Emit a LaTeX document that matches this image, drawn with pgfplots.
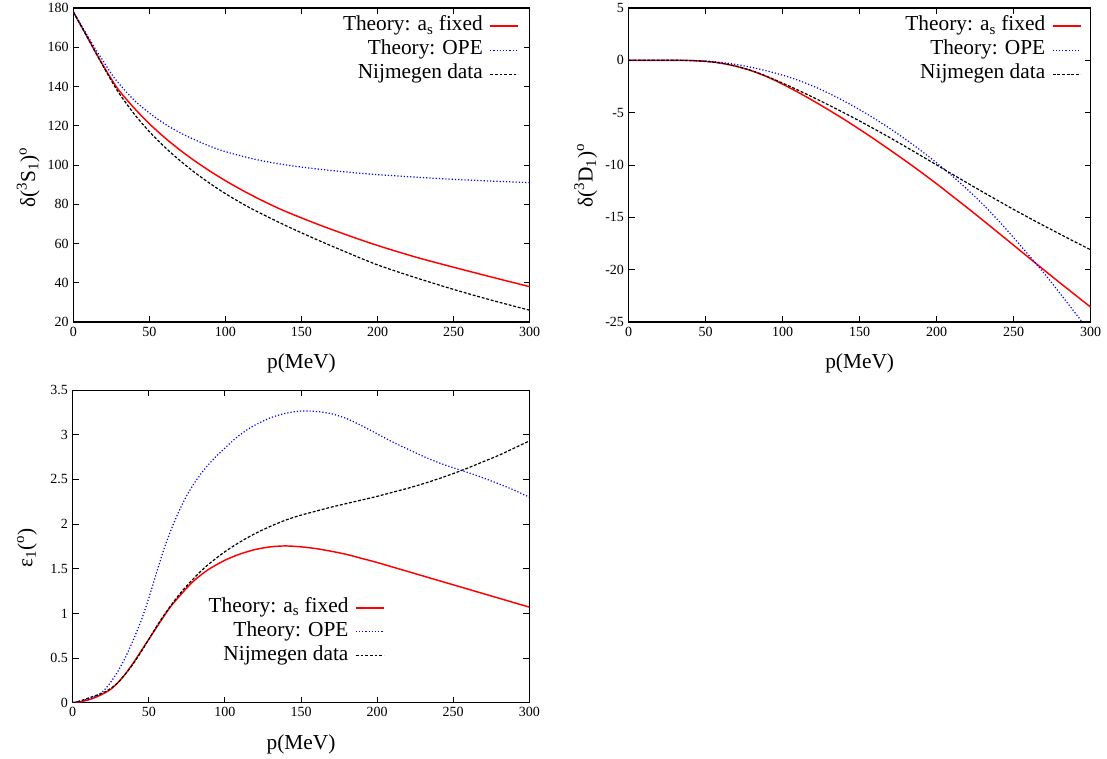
\documentclass[border=0pt]{standalone}
\usepackage{fontspec}
\setmainfont{Liberation Serif}
\usepackage{pgfplots}
\pgfplotsset{compat=1.18}
\pgfplotsset{
  gp/.style={
    scale only axis,
    anchor=south west,
    xmin=0, xmax=300,
    xtick={0,50,...,300},
    /pgf/number format/assume math mode=true,
    tick label style={font=\fontsize{10.5}{12}\selectfont, black},
    label style={font=\fontsize{16}{18}\selectfont},
    tick align=inside,
    major tick length=4.5pt,
    every tick/.style={black, line width=0.7pt},
    axis line style={black, line width=0.8pt},
    xlabel={p(MeV)},
    legend plot pos=right,
    legend image code/.code={\draw[##1] (0pt,0pt) -- (21pt,0pt);},
    legend style={draw=none, fill=none, inner sep=0pt, outer sep=0pt,
      row sep=0pt, column sep=5pt, font=\fontsize{16}{18}\selectfont,
      nodes={inner sep=0pt, text height=12.5pt, text depth=5.5pt},
      cells={anchor=east}},
  },
  redl/.style={color=red, line width=1.1pt, smooth},
  bluel/.style={color=blue, line width=0.9pt, dash pattern=on 0.9pt off 1.5pt, smooth},
  blackl/.style={color=black, line width=0.9pt, dash pattern=on 2.2pt off 1.3pt, smooth},
}
\begin{document}
\begin{tikzpicture}
\useasboundingbox (0,0) rectangle (830.25pt,569.25pt);
% ---------------- Panel 1: 3S1
\begin{axis}[gp,
  at={(55pt,327.75pt)}, width=342.2pt, height=235.5pt,
  ymin=20, ymax=180, ytick={20,40,...,180},
  ylabel={δ(\textsuperscript{3}S\textsubscript{1})\textsuperscript{o}},
  ylabel style={at={(axis description cs:-0.099,0.46)}, anchor=center},
  xlabel style={at={(axis description cs:0.5,-0.131)}, anchor=center},
  legend style={at={(axis description cs:1,1)}, anchor=north east, xshift=-8pt, yshift=-4.6pt},
]
\addplot[redl] coordinates {(0,178) (5,171) (10,164) (15,157) (20,150.2) (25,143.8) (30,138) (40,129) (50,121) (60,114) (70,107.7) (80,102) (90,96.8) (100,92) (110,87.6) (120,83.5) (130,79.7) (140,76.2) (160,70) (180,64.3) (200,59) (225,53.1) (250,47.9) (275,42.9) (300,38)};
\addlegendentry{Theory: a\textsubscript{s} fixed}
\addplot[bluel] coordinates {(0,178) (5,171.5) (10,165) (15,158.5) (20,152.5) (25,146.5) (30,141.5) (40,133) (50,126.5) (60,121) (70,116.5) (80,112.8) (90,109.5) (100,106.8) (120,102.8) (140,100) (160,98) (180,96.4) (200,95.1) (225,93.8) (250,92.7) (275,91.8) (300,91)};
\addlegendentry{Theory: OPE}
\addplot[blackl] coordinates {(0,178) (5,171) (10,164) (15,156.8) (20,149.8) (25,143) (30,136.6) (40,126) (50,117) (60,109.2) (70,102.3) (80,96.1) (90,90.5) (100,85.4) (110,80.8) (120,76.6) (140,69) (160,62) (180,55.4) (200,49.1) (225,42.6) (250,36.6) (275,31.1) (300,26)};
\addlegendentry{Nijmegen data}
\end{axis}
% ---------------- Panel 2: 3D1
\begin{axis}[gp,
  at={(471.5pt,327.75pt)}, width=346.5pt, height=235.5pt,
  ymin=-25, ymax=5, ytick={-25,-20,...,5},
  ylabel={δ(\textsuperscript{3}D\textsubscript{1})\textsuperscript{o}},
  ylabel style={at={(axis description cs:-0.093,0.466)}, anchor=center},
  xlabel style={at={(axis description cs:0.5,-0.131)}, anchor=center},
  legend style={at={(axis description cs:1,1)}, anchor=north east, xshift=-7pt, yshift=-4.6pt},
]
\addplot[redl] coordinates {(0,0) (20,0) (30,0) (40,-0.02) (50,-0.1) (60,-0.27) (70,-0.58) (80,-1.01) (90,-1.58) (100,-2.28) (110,-3.05) (120,-3.88) (130,-4.75) (140,-5.65) (150,-6.6) (160,-7.58) (170,-8.6) (180,-9.63) (190,-10.7) (200,-11.8) (210,-12.95) (220,-14.1) (230,-15.28) (240,-16.47) (250,-17.67) (260,-18.87) (270,-20.07) (280,-21.25) (290,-22.42) (300,-23.58)};
\addlegendentry{Theory: a\textsubscript{s} fixed}
\addplot[bluel] coordinates {(0,0) (20,0) (30,0) (40,-0.01) (50,-0.07) (60,-0.2) (70,-0.4) (80,-0.68) (90,-1.02) (100,-1.42) (110,-1.9) (120,-2.48) (130,-3.15) (140,-3.9) (150,-4.72) (160,-5.6) (170,-6.55) (180,-7.57) (190,-8.65) (200,-9.8) (210,-11.03) (220,-12.35) (230,-13.75) (240,-15.3) (250,-16.95) (260,-18.65) (270,-20.4) (280,-22.25) (290,-24.15) (295,-25.1)};
\addlegendentry{Theory: OPE}
\addplot[blackl] coordinates {(0,0) (20,0) (30,0) (40,-0.02) (50,-0.1) (60,-0.27) (70,-0.57) (80,-0.99) (90,-1.55) (100,-2.18) (110,-2.85) (120,-3.55) (130,-4.28) (140,-5.03) (150,-5.8) (160,-6.6) (170,-7.42) (180,-8.27) (190,-9.13) (200,-10.0) (210,-10.87) (220,-11.73) (230,-12.58) (240,-13.42) (250,-14.25) (260,-15.05) (270,-15.83) (280,-16.6) (290,-17.36) (300,-18.1)};
\addlegendentry{Nijmegen data}
\end{axis}
% ---------------- Panel 3: epsilon_1
\begin{axis}[gp,
  at={(54.5pt,42.2pt)}, width=342.5pt, height=234.5pt,
  ymin=0, ymax=3.5, ytick={0,0.5,...,3.5},
  ylabel={ε\textsubscript{1}(\textsuperscript{o})},
  ylabel style={at={(axis description cs:-0.1,0.495)}, anchor=center},
  xlabel style={at={(axis description cs:0.5,-0.134)}, anchor=center},
  legend style={at={(axis description cs:0.683,0.342)}, anchor=north east},
]
\addplot[redl] coordinates {(0,0) (5,0.01) (10,0.03) (15,0.06) (20,0.1) (25,0.15) (30,0.23) (35,0.33) (40,0.45) (45,0.58) (50,0.71) (55,0.84) (60,0.97) (65,1.09) (70,1.19) (75,1.285) (80,1.37) (85,1.44) (90,1.5) (100,1.595) (110,1.665) (120,1.715) (130,1.745) (140,1.755) (150,1.745) (160,1.725) (170,1.695) (180,1.66) (190,1.615) (200,1.57) (210,1.52) (220,1.47) (230,1.42) (240,1.37) (250,1.32) (260,1.27) (270,1.22) (280,1.17) (290,1.12) (300,1.07)};
\addlegendentry{Theory: a\textsubscript{s} fixed}
\addplot[bluel] coordinates {(0,0) (5,0.02) (10,0.04) (15,0.07) (20,0.13) (25,0.23) (30,0.36) (35,0.52) (40,0.71) (45,0.92) (50,1.17) (55,1.45) (60,1.72) (65,1.95) (70,2.15) (75,2.32) (80,2.46) (85,2.58) (90,2.68) (95,2.77) (100,2.85) (105,2.93) (110,3.0) (115,3.06) (120,3.11) (130,3.19) (140,3.24) (150,3.265) (160,3.26) (170,3.235) (180,3.18) (190,3.1) (200,3.01) (210,2.92) (220,2.84) (230,2.76) (240,2.69) (250,2.63) (260,2.575) (270,2.515) (280,2.45) (290,2.38) (300,2.3)};
\addlegendentry{Theory: OPE}
\addplot[blackl] coordinates {(0,0) (5,0.02) (10,0.05) (15,0.08) (20,0.11) (25,0.16) (30,0.23) (35,0.33) (40,0.44) (45,0.57) (50,0.71) (55,0.85) (60,0.98) (65,1.1) (70,1.21) (75,1.31) (80,1.4) (85,1.485) (90,1.56) (100,1.69) (110,1.8) (120,1.895) (130,1.975) (140,2.045) (150,2.1) (160,2.145) (170,2.19) (180,2.23) (190,2.27) (200,2.31) (210,2.355) (220,2.4) (230,2.45) (240,2.505) (250,2.565) (260,2.63) (270,2.7) (280,2.77) (290,2.85) (300,2.93)};
\addlegendentry{Nijmegen data}
\end{axis}
\end{tikzpicture}
\end{document}
